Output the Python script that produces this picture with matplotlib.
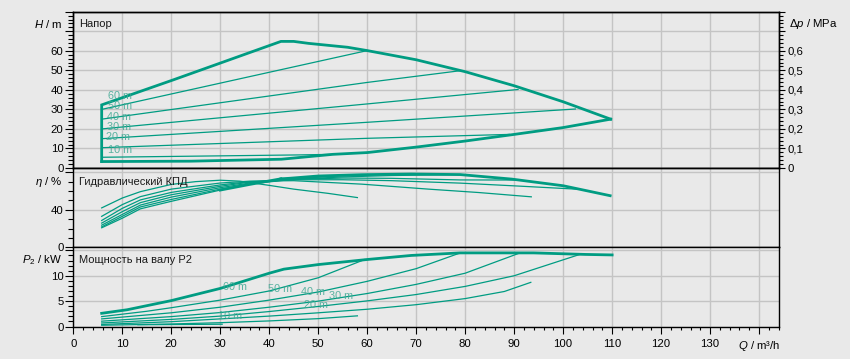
import numpy as np
import matplotlib
matplotlib.use('Agg')
import matplotlib.pyplot as plt
from matplotlib.ticker import FixedLocator, FixedFormatter, MultipleLocator
from matplotlib.transforms import blended_transform_factory

plt.rcParams['font.family'] = ['Liberation Sans', 'DejaVu Sans']
plt.rcParams['mathtext.fontset'] = 'custom'
plt.rcParams['mathtext.rm'] = 'Liberation Sans'
plt.rcParams['mathtext.it'] = 'Liberation Sans:italic'

# ---------------- data ----------------
# Head panel (Q in m3/h, H in m)
env_top_q = [5.8, 5.8, 20.4, 42.4, 45, 48, 56, 60, 70, 80, 90, 100, 109.7]
env_top_h = [3.3, 32.3, 45.1, 64.8, 64.8, 63.8, 61.8, 60.1, 55.4, 49.3, 42.1, 33.9, 25.0]
env_low_q = [5.8, 24, 42.5, 53, 60, 70, 80, 90, 100, 109.7]
env_low_h = [3.3, 3.5, 4.5, 7.0, 7.9, 10.7, 13.8, 17.2, 20.7, 25.0]

h50_q = [5.8, 60];            h50_h = [30.0, 60.1]
h40_q = [5.8, 60, 79];        h40_h = [25.0, 43.8, 49.8]
h30_q = [5.8, 60, 90.8];      h30_h = [20.0, 32.8, 40.2]
h20_q = [5.8, 60, 102.5];     h20_h = [15.0, 23.4, 30.2]
h10_q = [5.8, 60, 89];        h10_h = [10.4, 15.2, 17.2]
h05_q = [5.8, 46, 53];        h05_h = [5.5, 6.7, 7.0]

h_labels = ['60 m', '50 m', '40 m', '30 m', '20 m', '10 m']
h_label_q = [7.1, 7.0, 6.9, 6.9, 6.7, 7.1]
h_label_h = [37.0, 31.5, 26.2, 21.0, 15.9, 9.0]

# Efficiency panel (eta in %)
e60_q = [5.8, 10, 13.7, 20, 30, 36, 42.4]
e60_v = [20.8, 31, 41, 49, 61, 67, 73]
e50_q = [5.8, 10, 13.7, 20, 30, 36, 45, 52, 60]
e50_v = [21.8, 33, 43, 51, 62, 67.5, 72.5, 75.5, 77.4]
e40_q = [5.8, 10, 13.7, 20, 30, 36, 45, 55, 65, 79]
e40_v = [23.6, 35, 45, 53.5, 63.5, 68.5, 72.5, 75, 76.5, 77.5]
e30_q = [5.8, 10, 13.7, 20, 30, 36, 45, 55, 65, 79, 91]
e30_v = [25.8, 38, 47.6, 56, 65, 69.5, 72.5, 73.8, 73.5, 71.8, 71.7]
e20_q = [5.8, 10, 13.7, 20, 30, 36, 45, 55, 65, 79, 90, 103.4]
e20_v = [28.6, 41.5, 50.5, 58.5, 66.5, 70, 72, 72, 71, 68.4, 65.5, 61.8]
e10_q = [5.8, 10, 13.7, 20, 30, 36, 45, 58.9, 72.5, 82.7, 93.5]
e10_v = [33, 45.5, 54, 62, 68.5, 70.5, 71, 67.3, 62, 58.4, 53.8]
e05_q = [5.8, 10, 13.7, 20, 25, 30, 34, 40, 45, 52, 58]
e05_v = [42, 52.5, 59.3, 67, 70, 71.5, 70.5, 66, 62, 57.5, 53]
emax_q = [42.4, 44, 50, 59, 69, 79, 89.5, 100, 109.6]
emax_v = [73, 73.5, 76, 77.4, 78.1, 77.5, 72.7, 65.6, 55]

# Power panel (P2 in kW)
p60_q = [5.8, 11, 20, 30, 35, 40, 43, 50, 60, 69, 79, 94, 104.5, 110]
p60_v = [2.6, 3.3, 5.1, 7.5, 9.0, 10.5, 11.3, 12.2, 13.2, 14.0, 14.5, 14.5, 14.2, 14.1]
p50_q = [5.8, 15, 20, 30, 40, 50, 59.5]
p50_v = [1.95, 3.0, 3.7, 5.2, 7.0, 9.6, 13.2]
p40_q = [5.8, 20, 30, 40, 50, 60, 70, 79]
p40_v = [1.5, 2.7, 3.8, 5.2, 6.8, 8.9, 11.4, 14.5]
p30_q = [5.8, 20, 30, 40, 50, 60, 70, 80, 91.2]
p30_v = [1.05, 1.95, 2.75, 3.8, 5.0, 6.5, 8.3, 10.5, 14.5]
p20_q = [5.8, 20, 30, 40, 50, 60, 70, 80, 90, 103.4]
p20_v = [0.7, 1.4, 2.05, 2.95, 3.95, 5.05, 6.3, 7.9, 10.0, 14.2]
p10_q = [5.8, 20, 30, 40, 50, 60, 70, 80, 88, 93.4]
p10_v = [0.4, 0.95, 1.5, 2.05, 2.7, 3.4, 4.3, 5.5, 6.9, 8.7]
p05_q = [5.8, 20, 30, 40, 50, 58]
p05_v = [0.25, 0.5, 0.75, 1.1, 1.55, 2.1]
pmin_q = [13.2, 30.4]
pmin_v = [0.35, 0.45]

p_labels = ['60 m', '50 m', '40 m', '30 m', '20 m', '10 m']
p_label_q = [30.5, 39.7, 46.5, 52.3, 47.2, 29.6]
p_label_v = [7.7, 7.3, 6.7, 6.0, 4.2, 2.07]

x_ticks = list(range(0, 150, 10))
x_ticklabels = [str(v) for v in range(0, 140, 10)] + [r'$\mathit{Q}$ / m³/h']

# ---------------- style ----------------
BG = '#e9e9e9'
TEAL = '#009c82'
LABC = '#3fa893'
GRID = '#c4c4c4'
THICK = 2.0
THIN = 0.9
FS = 8.2
LFS = 7.8

fig = plt.figure(figsize=(8.5, 3.59), dpi=100, facecolor=BG)
L, W = 0.0862, 0.8299
axH = fig.add_axes([L, 0.5320, W, 0.4354])
axE = fig.add_axes([L, 0.3111, W, 0.2209])
axP = fig.add_axes([L, 0.0905, W, 0.2206])

for ax in (axH, axE, axP):
    ax.set_facecolor(BG)
    ax.set_xlim(0, 144)
    ax.xaxis.set_major_locator(FixedLocator(x_ticks))
    ax.xaxis.set_minor_locator(MultipleLocator(2))
    ax.set_axisbelow(True)
    ax.grid(True, which='major', color=GRID, lw=1.0)
    for s in ax.spines.values():
        s.set_color('black')
        s.set_linewidth(1.0)
    ax.tick_params(axis='y', which='major', direction='out', length=5.5, width=0.8,
                   labelsize=FS, pad=1.5, colors='black')
    ax.tick_params(axis='y', which='minor', direction='out', length=3.5, width=0.8)

for ax in (axH, axE):
    ax.tick_params(axis='x', which='both', length=0, labelbottom=False)

axP.tick_params(axis='x', which='major', direction='out', length=4.8, width=0.8,
                labelsize=FS, pad=4)
axP.tick_params(axis='x', which='minor', direction='out', length=2.4, width=0.8)
axP.xaxis.set_major_formatter(FixedFormatter(x_ticklabels))

# Head panel
axH.set_ylim(0, 80)
axH.yaxis.set_major_locator(FixedLocator(list(range(0, 90, 10))))
axH.yaxis.set_major_formatter(FixedFormatter(['0', '10', '20', '30', '40', '50', '60', '', '']))
axH.yaxis.set_minor_locator(MultipleLocator(2))
axH.plot(env_top_q, env_top_h, color=TEAL, lw=THICK, solid_joinstyle='miter')
axH.plot(env_low_q, env_low_h, color=TEAL, lw=THICK)
for q, h in [(h50_q, h50_h), (h40_q, h40_h), (h30_q, h30_h), (h20_q, h20_h),
             (h10_q, h10_h), (h05_q, h05_h)]:
    axH.plot(q, h, color=TEAL, lw=THIN)
for t, q, h in zip(h_labels, h_label_q, h_label_h):
    axH.text(q, h, t, color=LABC, fontsize=LFS, ha='left', va='center', alpha=0.85)

axR = axH.twinx()
axR.set_ylim(0, 0.8)
axR.yaxis.set_major_locator(FixedLocator([i / 10 for i in range(9)]))
axR.yaxis.set_major_formatter(FixedFormatter(['0', '0,1', '0,2', '0,3', '0,4', '0,5', '0,6', '', '']))
axR.yaxis.set_minor_locator(MultipleLocator(0.02))
axR.tick_params(axis='y', which='major', direction='out', length=4.5, width=0.8,
                labelsize=FS, pad=2)
axR.tick_params(axis='y', which='minor', direction='out', length=2.8, width=0.8)
for s in axR.spines.values():
    s.set_color('black')
    s.set_linewidth(1.0)

# Efficiency panel
axE.set_ylim(0, 84.5)
axE.yaxis.set_major_locator(FixedLocator([0, 40, 80]))
axE.yaxis.set_major_formatter(FixedFormatter(['0', '40', '']))
axE.yaxis.set_minor_locator(MultipleLocator(10))
for q, v in [(e50_q, e50_v), (e40_q, e40_v), (e30_q, e30_v), (e20_q, e20_v),
             (e10_q, e10_v), (e05_q, e05_v)]:
    axE.plot(q, v, color=TEAL, lw=THIN)
axE.plot(e60_q[:5], e60_v[:5], color=TEAL, lw=THIN)
axE.plot(e60_q[4:], e60_v[4:], color=TEAL, lw=THICK)
axE.plot(emax_q, emax_v, color=TEAL, lw=THICK)

# Power panel
axP.set_ylim(0, 15.6)
axP.yaxis.set_major_locator(FixedLocator([0, 5, 10, 15]))
axP.yaxis.set_major_formatter(FixedFormatter(['0', '5', '10', '']))
axP.yaxis.set_minor_locator(MultipleLocator(1))
axP.plot(p60_q, p60_v, color=TEAL, lw=THICK)
for q, v in [(p50_q, p50_v), (p40_q, p40_v), (p30_q, p30_v), (p20_q, p20_v),
             (p10_q, p10_v), (p05_q, p05_v), (pmin_q, pmin_v)]:
    axP.plot(q, v, color=TEAL, lw=THIN)
for t, q, v in zip(p_labels, p_label_q, p_label_v):
    axP.text(q, v, t, color=LABC, fontsize=LFS, ha='left', va='center', alpha=0.85)

# Titles and unit labels
TXT = '#1a1a1a'
axH.text(1.2, 73.7, 'Напор', fontsize=8, color=TXT, ha='left', va='center')
axE.text(1.2, 70, 'Гидравлический КПД', fontsize=8, color=TXT, ha='left', va='center')
axP.text(1.2, 13.1, 'Мощность на валу P2', fontsize=8, color=TXT, ha='left', va='center')

xr = 62.5 / 850
axH.text(xr, 73.7, r'$\mathit{H}$ / m', fontsize=FS, ha='right', va='center',
         transform=blended_transform_factory(fig.transFigure, axH.transData))
axE.text(xr, 70, r'$\mathit{η}$ / %', fontsize=FS, ha='right', va='center',
         transform=blended_transform_factory(fig.transFigure, axE.transData))
axP.text(xr, 13.1, r'$\mathit{P}_2$ / kW', fontsize=FS, ha='right', va='center',
         transform=blended_transform_factory(fig.transFigure, axP.transData))
axH.text(789 / 850, 73.7, r'$\mathit{Δp}$ / MPa', fontsize=FS, ha='left', va='center',
         transform=blended_transform_factory(fig.transFigure, axH.transData))

fig.savefig('out.png', dpi=100, facecolor=BG)
